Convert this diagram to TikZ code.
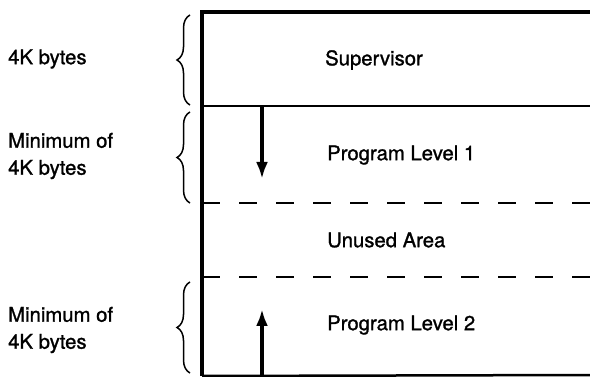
\documentclass[tikz,border=0pt]{standalone}
\usepackage{fontspec}
\setsansfont{TeX Gyre Heros}[BoldFont=TeX Gyre Heros, BoldFeatures={FakeBold=1.2}]
\usetikzlibrary{arrows.meta, decorations.pathreplacing, positioning}

\begin{document}
\begin{tikzpicture}[
  x=1pt, y=-1pt,
  font=\sffamily\bfseries\fontsize{20.3}{27}\selectfont,
  area/.style={anchor=west, inner sep=0pt},
  size/.style={anchor=west, align=left, inner sep=0pt},
  frame/.style={line width=3.5pt},
  bound/.style={line width=2.5pt},
  unused/.style={line width=2.5pt, dash pattern=on 18pt off 19pt},
  growth/.style={line width=3.5pt, -{Latex[length=17pt, width=12pt]}},
  span/.style={line width=1.5pt, decorate, decoration={brace, amplitude=13pt}},
]
  \useasboundingbox (0,0) rectangle (590,377);

  % --- storage frame ---
  \coordinate (TL) at (202,12);
  \coordinate (TR) at (590,12);
  \coordinate (BL) at (202,376);
  \coordinate (BR) at (590,375);
  \draw[frame] (TR) -- (TL) -- (BL);
  \draw[bound] (BL) -- (BR);

  % --- area boundaries ---
  \coordinate (S1) at (202,106);
  \coordinate (S2) at (590,106);
  \coordinate (D1) at (202,203);
  \coordinate (D2) at (590,203);
  \coordinate (D3) at (202,277);
  \coordinate (D4) at (590,277);
  \draw[bound] (S1) -- (S2);
  \draw[unused] (D1) -- (D2);
  \draw[unused] (D3) -- (D4);

  % --- area names ---
  \node[area] (sup) at (325,60) {Supervisor};
  \node[area] (pl1) at (327,155) {Program Level 1};
  \node[area] (free) at (327,240) {Unused Area};
  \node[area] (pl2) at (327,325) {Program Level 2};

  % --- growth arrows ---
  \coordinate (A1) at (262,106);
  \coordinate (A2) at (262,179);
  \coordinate (A3) at (262,375);
  \coordinate (A4) at (262,309);
  \draw[growth] (A1) -- (A2);
  \draw[growth] (A3) -- (A4);

  % --- size braces ---
  \coordinate (B1) at (190,105);
  \coordinate (B2) at (190,15);
  \coordinate (B3) at (190,203);
  \coordinate (B4) at (190,112);
  \coordinate (B5) at (190,373);
  \coordinate (B6) at (190,282);
  \draw[span] (B1) -- (B2);
  \draw[span] (B3) -- (B4);
  \draw[span] (B5) -- (B6);

  % --- size labels ---
  \node[size] (sz0) at (8,59) {4K bytes};
  \node[size] (sz1) at (8,156) {Minimum of\\4K bytes};
  \node[size] (sz2) at (8,330) {Minimum of\\4K bytes};
\end{tikzpicture}
\end{document}
